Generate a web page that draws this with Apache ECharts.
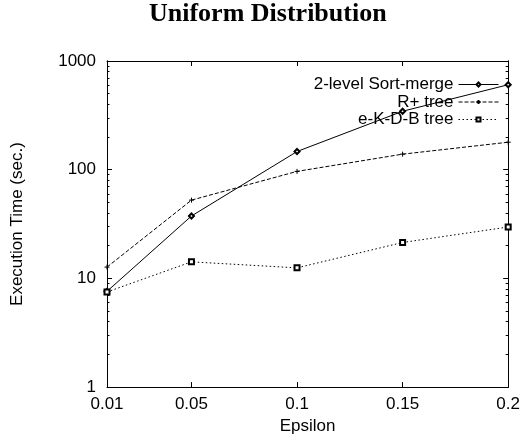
<!DOCTYPE html>
<html>
<head>
<meta charset="utf-8">
<script src="https://cdn.jsdelivr.net/npm/echarts@6/dist/echarts.min.js"></script>
<style>
  html, body {margin: 0; padding: 0; background: #fff;}
  #chart {width: 523px; height: 440px;}
</style>
</head>
<body>
<div id="chart"></div>
<script>
const epsilon = [0.01, 0.05, 0.1, 0.15, 0.2];
const sortMerge = [7.6, 37.5, 147, 345, 605];
const rPlusTree = [12.7, 52.5, 96.5, 139, 179];
const ekdbTree = [7.5, 14.2, 12.5, 21.4, 29.7];
const xTicks = [0.01, 0.05, 0.1, 0.15, 0.2];
const yMajor = [1, 10, 100, 1000];
const yMinor = [2, 3, 4, 5, 6, 7, 8, 9, 20, 30, 40, 50, 60, 70, 80, 90, 200, 300, 400, 500, 600, 700, 800, 900];

const black = '#000';
const sans = 'Liberation Sans';

const pairs = ys => epsilon.map((x, i) => [x, ys[i]]);

// gnuplot style: ticks point inward and are mirrored on the opposite side
const yBase = (position, ticks, len, labels) => ({
    type: 'log',
    logBase: 10,
    min: 1,
    max: 1000,
    position: position,
    splitLine: {show: false},
    axisLine: {show: true, lineStyle: {color: black, width: 1}},
    axisTick: {show: true, inside: true, length: len, customValues: ticks, lineStyle: {color: black}},
    axisLabel: labels
        ? {show: true, customValues: yMajor, color: black, fontFamily: sans, fontSize: 17, margin: 11,
            formatter: v => String(v)}
        : {show: false}
});

const xBase = (position, labels) => ({
    type: 'value',
    min: 0.01,
    max: 0.2,
    position: position,
    splitLine: {show: false},
    axisLine: {show: true, lineStyle: {color: black, width: 1}},
    axisTick: {show: true, inside: true, length: 5, customValues: xTicks, lineStyle: {color: black}},
    axisLabel: labels
        ? {show: true, customValues: xTicks, color: black, fontFamily: sans, fontSize: 17, margin: 9,
            formatter: v => String(v)}
        : {show: false}
});

const chart = echarts.init(document.getElementById('chart'));
chart.setOption({
    animation: false,
    backgroundColor: '#fff',
    title: {
        text: 'Uniform Distribution',
        left: 149,
        top: 1,
        padding: 0,
        textStyle: {fontFamily: 'Liberation Serif', fontWeight: 'bold', fontSize: 26, color: black}
    },
    grid: {left: 107, right: 12, top: 61, bottom: 51},
    legend: {
        orient: 'vertical',
        right: 24,
        top: 76,
        align: 'right',
        padding: 0,
        itemWidth: 40,
        itemHeight: 5,
        itemGap: 0.5,
        lineStyle: {width: 1},
        textStyle: {fontFamily: sans, fontSize: 17, lineHeight: 17, color: black},
        data: ['2-level Sort-merge', 'R+ tree', 'e-K-D-B tree']
    },
    xAxis: [
        Object.assign(xBase('bottom', true), {
            name: 'Epsilon',
            nameLocation: 'middle',
            nameGap: 26,
            nameTextStyle: {fontFamily: sans, fontSize: 17, color: black}
        }),
        xBase('top', false)
    ],
    yAxis: [
        Object.assign(yBase('left', yMajor, 5, true), {
            name: 'Execution Time (sec.)',
            nameLocation: 'middle',
            nameGap: 81,
            nameTextStyle: {fontFamily: sans, fontSize: 17, color: black}
        }),
        yBase('left', yMinor, 2.5, false),
        yBase('right', yMajor, 5, false),
        yBase('right', yMinor, 2.5, false)
    ],
    series: [
        {
            name: '2-level Sort-merge',
            type: 'line',
            data: pairs(sortMerge),
            symbol: 'emptyDiamond',
            symbolSize: 5,
            color: black,
            itemStyle: {color: black, borderWidth: 1},
            lineStyle: {color: black, width: 1, type: 'solid'}
        },
        {
            name: 'R+ tree',
            type: 'line',
            data: pairs(rPlusTree),
            symbol: 'path://M0,5L10,5M5,0L5,10',
            symbolSize: 5,
            color: black,
            itemStyle: {color: black, borderColor: black, borderWidth: 1},
            lineStyle: {color: black, width: 1, type: [4, 2]}
        },
        {
            name: 'e-K-D-B tree',
            type: 'line',
            data: pairs(ekdbTree),
            symbol: 'emptyRect',
            symbolSize: 5,
            color: black,
            itemStyle: {color: black, borderWidth: 1},
            lineStyle: {color: black, width: 1, type: [1.5, 2.5]}
        }
    ]
});
</script>
</body>
</html>
